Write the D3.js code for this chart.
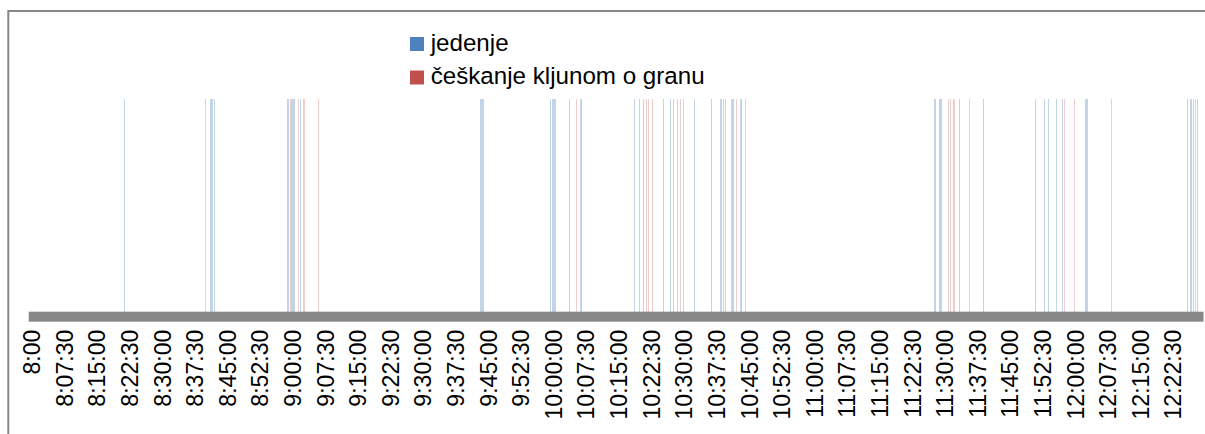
<!DOCTYPE html>
<html>
<head>
<meta charset="utf-8">
<script src="https://cdn.jsdelivr.net/npm/d3@7"></script>
<style>
  html, body { margin: 0; padding: 0; background: #fff; }
  svg { display: block; }
  text { font-family: "Liberation Sans", Arial, sans-serif; fill: #000; }
</style>
</head>
<body>
<svg id="chart" width="1205" height="434"></svg>
<script>
// ---- data ----
const seriesNames = ["jedenje", "češkanje kljunom o granu"];
const seriesColors = ["#4F81BD", "#C0504D"];

const jedenje = ["8:21:45","8:41:30","8:41:45","8:42:00","8:42:30","8:59:15","8:59:30","9:00:15","9:00:30","9:00:45","9:02:15",
  "9:43:30","9:43:45","9:44:00","9:44:15","9:59:45","10:00:15","10:00:30","10:00:45","10:04:00","10:06:30","10:06:45",
  "10:19:00","10:20:15","10:21:00","10:25:45","10:27:15","10:28:00","10:32:45","10:36:45","10:38:45","10:39:00","10:39:30",
  "10:40:00","10:41:30","10:41:45","10:43:30","11:28:00","11:28:15","11:29:15","11:29:30","11:33:45","11:39:15","11:51:15",
  "11:53:15","11:54:15","11:56:00","11:57:30","12:02:45","12:03:00","12:03:15","12:26:15","12:27:00","12:27:30","12:28:30"];

const ceskanje = ["8:40:15","9:00:00","9:01:45","9:03:00","9:06:15","10:05:45","10:21:45","10:22:15","10:23:15","10:29:00",
  "10:29:30","10:30:15","10:41:15","10:42:30","10:44:30","11:31:15","11:31:45","11:32:30","11:36:00","11:58:00","12:00:15",
  "12:08:45","12:28:00"];

const eventValue = 1;
const categoryStep = 15; // seconds per category
const axisStart = "8:00:00";
const axisEnd = "12:30:00";

const tickLabels = ["8:00","8:07:30","8:15:00","8:22:30","8:30:00","8:37:30","8:45:00","8:52:30","9:00:00","9:07:30",
  "9:15:00","9:22:30","9:30:00","9:37:30","9:45:00","9:52:30","10:00:00","10:07:30","10:15:00","10:22:30","10:30:00",
  "10:37:30","10:45:00","10:52:30","11:00:00","11:07:30","11:15:00","11:22:30","11:30:00","11:37:30","11:45:00",
  "11:52:30","12:00:00","12:07:30","12:15:00","12:22:30"];

// ---- helpers ----
function toSec(s) {
  const p = s.split(":").map(Number);
  return p[0] * 3600 + p[1] * 60 + (p[2] || 0);
}

const svg = d3.select("#chart");

// frame (cropped chart border)
svg.append("path")
  .attr("d", "M8.3,440 V11 H1215")
  .attr("fill", "none")
  .attr("stroke", "#878787")
  .attr("stroke-width", 2);

const x = d3.scaleLinear().domain([toSec(axisStart), toSec(axisEnd)]).range([29.5, 1203.5]);
const y = d3.scaleLinear().domain([0, eventValue]).range([311.7, 99]);
const barW = x(toSec(axisStart) + categoryStep) - x(toSec(axisStart));

// bars
const series = [jedenje, ceskanje];
series.forEach((arr, si) => {
  svg.append("g")
    .selectAll("rect")
    .data(arr)
    .join("rect")
    .attr("x", d => x(toSec(d)))
    .attr("width", barW)
    .attr("y", y(eventValue))
    .attr("height", y(0) - y(eventValue))
    .attr("fill", seriesColors[si])
    .attr("fill-opacity", si === 0 ? 0.34 : 0.28)
    .attr("shape-rendering", "crispEdges");
});

// axis band
svg.append("rect")
  .attr("x", x.range()[0] - 0.8)
  .attr("y", y(0))
  .attr("width", x.range()[1] - x.range()[0] + 0.8)
  .attr("height", 10)
  .attr("fill", "#888888");

// x axis labels
const tickSecs = tickLabels.map(toSec);
const axis = d3.axisBottom(x).tickValues(tickSecs).tickFormat((d, i) => tickLabels[i]).tickSize(0);
const gx = svg.append("g").attr("transform", `translate(0,${y(0) + 10})`).call(axis);
gx.select(".domain").remove();
const labels = gx.selectAll("text")
  .attr("font-family", null)
  .style("font-family", '"Liberation Sans", Arial, sans-serif')
  .style("fill", "#000")
  .attr("fill", null)
  .attr("transform", "rotate(-90)")
  .attr("text-anchor", "end")
  .attr("x", -8)
  .attr("y", barW / 2 + 1.2)
  .attr("dy", "0.36em");
// fit label font size to reference width of "8:07:30"
labels.style("font-size", "23px");
const ref = labels.filter((d, i) => i === 1).node();
const len = ref.getComputedTextLength();
labels.style("font-size", (23 * 77 / len).toFixed(2) + "px");

// legend
const legend = svg.append("g");
seriesNames.forEach((name, i) => {
  const row = legend.append("g").attr("transform", `translate(410,${37 + i * 33.5})`);
  row.append("rect").attr("width", 14).attr("height", 14).attr("fill", seriesColors[i]);
  row.append("text").attr("class", "lg").attr("x", 20.7).attr("y", 13.7).style("font-size", "24px").text(name);
});
const lg = legend.selectAll("text.lg");
const lLen = lg.filter((d, i) => i === 1).node().getComputedTextLength();
lg.style("font-size", (24 * 274 / lLen).toFixed(2) + "px");
</script>
</body>
</html>
